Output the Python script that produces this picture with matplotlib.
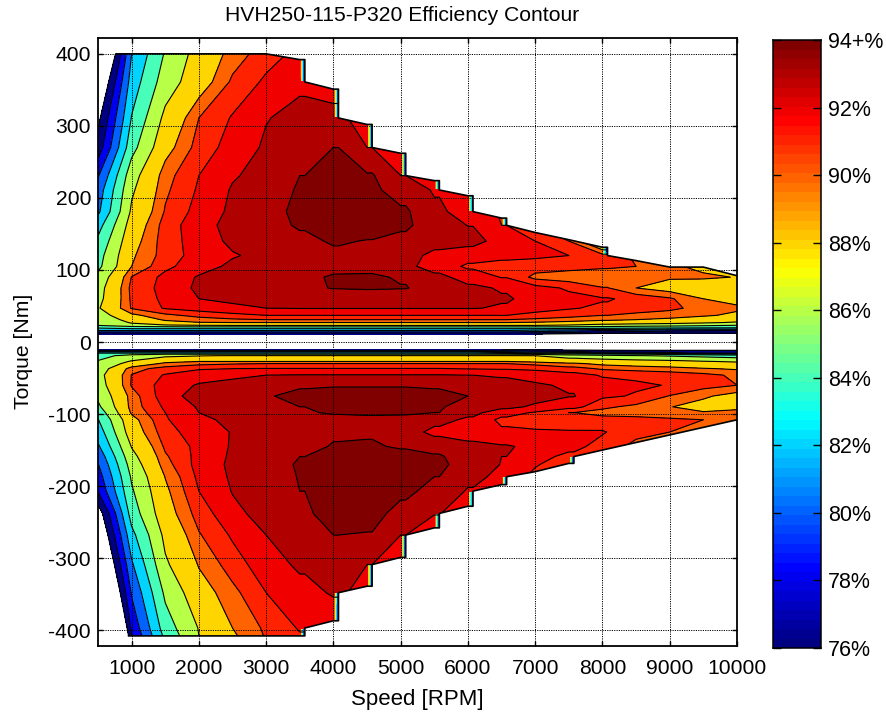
import numpy as np
import matplotlib
matplotlib.use('Agg')
import matplotlib.pyplot as plt
from matplotlib.colors import ListedColormap
from matplotlib.patches import Polygon

plt.rcParams['font.family'] = ['Liberation Sans', 'DejaVu Sans']
plt.rcParams['axes.unicode_minus'] = False

speeds = [500, 1000, 1500, 2000, 2500, 3000, 3500, 4000, 4500, 5000,
	5500, 6000, 6500, 7000, 7500, 8000, 8500, 9000, 9500, 10000]

# efficiency [%], motoring side, one row per torque
torque_top = [11, 12.3, 14, 16, 18.5, 21, 23, 27, 31, 37, 47, 60, 75, 90, 105,
	120, 140, 162, 181, 211, 231, 270, 311, 361, 400]
eff_top = [
	[76.2, 76.2, 76.2, 76.2, 76.2, 76.2, 76.2, 76.2, 76.2, 76.2, 76.2, 76.2, 76.2, 76, 75.5, 75, 74.5, 74, 74, 74],
	[78, 78, 78, 78, 78, 78, 78, 78, 78, 78, 78, 78, 78, 77.5, 77, 76.5, 76.2, 76, 76, 76],
	[80, 80, 80, 80, 80, 80, 80, 80, 80, 80, 80, 80, 80, 79.5, 79, 78, 77.5, 77.2, 77, 77],
	[82, 82, 82, 82, 82, 82, 82, 82, 82, 82, 82, 82, 82, 81.5, 81, 80, 79.3, 78.8, 78.3, 78],
	[83.5, 84, 84, 84, 84, 84, 84, 84, 84, 84, 84, 84, 84, 84, 83.8, 83.6, 83.4, 83.2, 83, 83],
	[85, 85.5, 85.8, 86, 86, 86, 86, 86, 86, 86, 86, 86, 86, 86, 85.9, 85.7, 85.5, 85.3, 85.2, 85],
	[86, 87.3, 87.7, 87.9, 88, 88, 88, 88, 88, 88, 88, 88, 88, 88, 87.7, 87, 86.7, 86.5, 86.2, 85.9],
	[86.2, 88.2, 89.5, 89.95, 90, 90, 90, 90, 90, 90, 90, 90, 90, 89.9, 89.7, 89.4, 89.1, 88.8, 88.3, 87.8],
	[86.5, 88.8, 90.2, 90.6, 90.85, 91, 91, 91, 91, 91, 91, 91, 91, 90.8, 90.5, 90.2, 90, 89.7, 89.2, 88.7],
	[87, 89.7, 90.75, 91.3, 91.7, 92, 92, 92, 92, 92, 92, 92, 92, 91.7, 91.4, 91, 90.8, 90.6, 90.2, 89.7],
	[87.8, 91.1, 92.1, 92.5, 92.8, 93, 93.05, 93.05, 93.05, 93.05, 93.05, 93.05, 92.9, 92.4, 92.1, 91.8, 91.4, 91.2, 90.7, 90.25],
	[87.4, 91.2, 92.25, 93, 93.2, 93.3, 93.35, 93.4, 93.4, 93.4, 93.3, 93.2, 93.1, 92.7, 92.3, 92.1, 91.7, 91.15, 90, 89.5],
	[87.2, 91.3, 92.35, 93.2, 93.4, 93.55, 93.8, 94.05, 94.1, 94.05, 93.6, 93.2, 92.9, 92.4, 91.85, 91.05, 90, 89.4, 89, 88.7],
	[86.6, 91.05, 92.3, 93.1, 93.4, 93.6, 93.8, 94.1, 94.15, 93.9, 93.25, 92.6, 91.95, 90.7, 90.4, 90.25, 90.2, 90.15, 90.2, 89.95],
	[85.5, 90, 91.75, 92.6, 93.2, 93.45, 93.6, 93.75, 93.7, 93.25, 92.6, 91.8, 91.6, 91.5, 91.4, 91.2, 91, 90.2, 89.7, 89.5],
	[85.2, 89.8, 91.45, 92.45, 92.92, 93.25, 93.5, 93.8, 93.75, 93.3, 92.8, 92.5, 92.3, 92.2, 92, 91.3, 90.9, 90, 89.5, 89],
	[84.4, 89.4, 91.5, 92.5, 93.2, 93.55, 93.8, 94.1, 93.95, 93.7, 93.3, 93.3, 92.65, 92, 91, 88, 88, 88, 88, 88],
	[83.2, 88.9, 91.45, 92.65, 93.3, 93.7, 94.1, 94.6, 94.5, 94.2, 93.4, 92.98, 92, 91, 88, 88, 88, 88, 88, 88],
	[81.6, 88.3, 91.1, 92.4, 93.2, 93.7, 94.2, 94.7, 94.5, 94.15, 93.2, 92.5, 91.9, 91, 88, 88, 88, 88, 88, 88],
	[80.9, 87.7, 90.8, 92.15, 93.1, 93.55, 94.1, 94.6, 94.2, 93.6, 92.9, 92.3, 91.5, 91, 88, 88, 88, 88, 88, 88],
	[79.8, 87.2, 90.6, 92, 92.9, 93.35, 94, 94.5, 94.1, 93, 92.2, 92, 91.5, 91, 88, 88, 88, 88, 88, 88],
	[76.8, 85.3, 89.46, 91.43, 92.43, 93.15, 93.65, 94, 93, 92.4, 92, 92, 91.5, 91, 88, 88, 88, 88, 88, 88],
	[75.4, 84.1, 88.5, 91, 92.1, 92.95, 93.3, 93.2, 92.6, 92.2, 92, 92, 91.5, 91, 88, 88, 88, 88, 88, 88],
	[72.8, 82.9, 87, 89.2, 91.2, 92.2, 92.8, 92.7, 92, 92, 92, 92, 91.5, 91, 88, 88, 88, 88, 88, 88],
	[69.5, 82, 86.2, 88.8, 90.45, 91.55, 92.3, 92.4, 92, 92, 92, 92, 91.5, 91, 88, 88, 88, 88, 88, 88],
]

# same for the generating side, torque given as magnitude
torque_bot = [10.5, 11.5, 12.5, 14, 15.5, 17, 19, 27, 30, 37, 46, 60, 75, 90, 98, 108,
	125, 145, 159, 170, 187, 207, 238, 268, 309, 348, 397, 408]
eff_bot = [
	[76.2, 76.2, 76.2, 76.2, 76.2, 76.2, 76.2, 76.2, 76.2, 76.2, 76.2, 76.2, 76, 75.6, 75, 74.5, 74, 74, 74, 74],
	[77.5, 77.5, 77.5, 77.5, 77.5, 77.5, 77.5, 77.5, 77.5, 77.5, 77.5, 77.5, 77.3, 76.9, 76.5, 76.2, 76, 76, 76, 76],
	[79, 79, 79, 79, 79, 79, 79, 79, 79, 79, 79, 79, 78.5, 78, 77.5, 77, 76.8, 76.7, 76.7, 76.7],
	[82, 82, 82, 82, 82, 82, 82, 82, 82, 82, 82, 82, 81, 80, 79, 78, 77.7, 77.5, 77.3, 77.3],
	[84, 84, 84, 84, 84, 84, 84, 84, 84, 84, 84, 84, 83.5, 83, 82, 81, 80, 79, 78, 77.9],
	[85, 85.7, 86, 86, 86, 86, 86, 86, 86, 86, 86, 86, 86, 85.8, 85, 84.7, 84.4, 83.5, 83, 82.5],
	[85.5, 86.5, 87.6, 87.9, 88.1, 88.1, 88.1, 88.1, 88.1, 88.1, 88.1, 88.1, 88.1, 88, 87, 86.5, 86.1, 85.8, 85.4, 85],
	[86.1, 88.2, 89.6, 90, 90, 90, 90, 90, 90, 90, 90, 90, 90, 89.7, 89.3, 89, 88.7, 88.5, 88.1, 87.8],
	[86.3, 88.8, 90.3, 90.7, 90.9, 91, 91, 91, 91, 91, 91, 91, 91, 90.7, 90.2, 89.7, 89.4, 89.2, 88.8, 88.5],
	[86.8, 90.6, 91.4, 91.9, 92, 92.05, 92.05, 92.05, 92.05, 92.05, 92.05, 91.95, 91.9, 91.8, 91.4, 90.85, 90.6, 90.4, 90.1, 89.85],
	[87.3, 91.05, 92.1, 92.55, 92.8, 93, 93.05, 93.05, 93.05, 93.05, 93.05, 93, 92.9, 92.6, 92.4, 91.9, 91.8, 91.6, 91.3, 90.8],
	[87, 91.1, 92.45, 93.1, 93.3, 93.5, 93.85, 93.9, 93.9, 93.9, 93.85, 93.8, 93.3, 93.15, 92.85, 92.4, 92.15, 91.95, 91.4, 91],
	[86.4, 90.5, 92.6, 93.4, 93.7, 93.9, 94.3, 94.5, 94.5, 94.5, 94.3, 94, 93.7, 93.45, 93.05, 92.2, 91.9, 90.95, 90.2, 89.5],
	[85.6, 90.45, 92.2, 93.1, 93.6, 93.8, 94, 94.3, 94.35, 94.35, 94.1, 93.6, 93.3, 92.8, 92.4, 91.2, 90.75, 90.05, 89.5, 89.7],
	[84.8, 90.2, 92, 93, 93.45, 93.7, 93.95, 94.05, 94.1, 94.1, 94, 93.3, 92.4, 91.9, 91, 90.7, 90.6, 90.3, 90.1, 90.3],
	[83.9, 89.5, 91.9, 92.75, 93.25, 93.5, 93.65, 93.85, 93.85, 93.8, 93.35, 92.8, 91.75, 91.5, 91.1, 91.35, 91.3, 91.2, 91, 90.7],
	[82.9, 89.1, 91.6, 92.55, 93.05, 93.5, 93.75, 93.9, 93.9, 93.5, 92.7, 92.4, 92.2, 92.15, 92.15, 92.1, 91.3, 91, 90, 89],
	[81.7, 88.1, 91.2, 92.3, 93.1, 93.4, 93.8, 94.05, 94.1, 93.9, 93.7, 93.35, 93.1, 92.75, 92.3, 91.6, 90.7, 89, 88, 88],
	[80.6, 87.4, 90.85, 92.35, 93.15, 93.5, 94, 94.4, 94.5, 94.3, 94.1, 93.55, 93, 92.35, 91.75, 90.55, 89, 88, 88, 88],
	[79.9, 86.9, 90.6, 92.4, 93.2, 93.6, 94.1, 94.6, 94.8, 94.6, 94.15, 93.7, 92.95, 92.1, 91.4, 90, 88, 88, 88, 88],
	[79, 86.25, 90.05, 92.25, 93.15, 93.55, 94.05, 94.6, 94.75, 94.45, 94, 93.3, 92.7, 91.7, 90.5, 88.7, 88, 88, 88, 88],
	[78.1, 85.75, 89.7, 92, 93.05, 93.5, 94, 94.55, 94.6, 94.2, 93.7, 92.9, 92.35, 91.3, 90, 88, 88, 88, 88, 88],
	[74.6, 84.9, 89.3, 91.45, 92.75, 93.35, 93.85, 94.35, 94.3, 93.7, 93.05, 92.3, 92, 91, 90, 88, 88, 88, 88, 88],
	[72.9, 83.4, 88.5, 90.9, 92.15, 93, 93.5, 94, 93.95, 93, 92.3, 92, 92, 91, 90, 88, 88, 88, 88, 88],
	[70.6, 81.7, 87.7, 90.1, 91.5, 92.6, 93.15, 93.5, 93, 92.4, 92, 92, 92, 91, 90, 88, 88, 88, 88, 88],
	[67.8, 80.2, 86.4, 89.3, 90.7, 92, 92.7, 93.1, 92.8, 92, 92, 92, 92, 91, 90, 88, 88, 88, 88, 88],
	[60, 78.5, 85, 88.1, 90, 91.2, 92.1, 92.3, 92, 92, 92, 92, 92, 91, 90, 88, 88, 88, 88, 88],
	[56, 78, 84.5, 88, 89.8, 91.1, 91.9, 92, 92, 92, 92, 92, 92, 91, 90, 88, 88, 88, 88, 88],
]

# torque limit, with the steps it takes at some speeds
step_speed_top = [3500, 4000, 4500, 5000, 5500, 6000, 6500, 8000]
step_high_top = [392, 351, 302, 262, 224, 203, 172, 131.5]
step_low_top = [361, 311, 270, 231, 211, 181, 162, 120]
limit_speed_top = [770, 3000, 7000, 7500, 8500, 9000, 9500, 10000]
limit_torque_top = [400, 400, 152, 142, 113, 104, 104, 92]

step_speed_bot = [3500, 4000, 4500, 5000, 5500, 6000, 6500, 7500]
step_high_bot = [408, 387, 339, 299, 258, 228, 198, 168.5]
step_low_bot = [397, 348, 309, 268, 238, 207, 187, 159]
limit_speed_bot = [955, 3000, 7000, 8000, 9000, 10000]
limit_torque_bot = [408, 408, 180, 150, 129, 108]

levels = [76, 78, 80, 82, 84, 86, 88, 90, 91, 92, 93, 94, 110]
step_width = 75
below_range = 75.6


def matlab_jet(x):
	""" jet as MATLAB has it, a bit different from the matplotlib one near the ends """
	x = np.asarray(x, dtype=float)
	r = np.clip(np.minimum(4 * x - 1.5, -4 * x + 4.5), 0, 1)
	g = np.clip(np.minimum(4 * x - 0.5, -4 * x + 3.5), 0, 1)
	b = np.clip(np.minimum(4 * x + 0.5, -4 * x + 2.5), 0, 1)
	return np.stack([r, g, b], axis=-1)


jet = ListedColormap(matlab_jet(np.linspace(0, 1, 64)))


def add_steps(eff, torque, step_speed, step_low):
	""" Add a column just after every step. Fill grid goes below the contour range over the limit,
	line grid does not so the lines stay out of the thin colour strip """
	x = np.array(speeds, dtype=float)
	t = np.array(torque, dtype=float)
	z_line = np.array(eff, dtype=float)
	# a repeated row just over each low point keeps the strip full height
	for low in step_low:
		k = np.searchsorted(t, low)
		z_line = np.insert(z_line, k + 1, z_line[k], axis=0)
		t = np.insert(t, k + 1, low + 0.1)
	z_fill = z_line.copy()
	for s, low in zip(step_speed, step_low):
		k = np.searchsorted(x, s)
		col = z_line[:, k].copy()
		col_fill = z_fill[:, k].copy()
		col_fill[t > low] = below_range
		i = np.searchsorted(x, s + step_width)
		x = np.insert(x, i, s + step_width)
		z_line = np.insert(z_line, i, col, axis=1)
		z_fill = np.insert(z_fill, i, col_fill, axis=1)
	return x, t, z_fill, z_line


def limit_line(step_speed, step_high, step_low, limit_speed, limit_torque):
	pts = list(zip(limit_speed, limit_torque))
	for s, hi, low in zip(step_speed, step_high, step_low):
		pts += [(s, hi), (s + step_width, hi), (s + step_width, low)]
	# points at the same speed stay in the order hi, lo since sort is stable
	pts.sort(key=lambda p: p[0])
	return np.array(pts)


def draw_side(ax, x, t, z_fill, z_line, line, sign):
	fill_colors = [jet(min(int((lv - 76) / 18.0 * 64), 63)) for lv in levels[:-1]]
	t_plot = sign * t
	if sign < 0:
		t_plot = t_plot[::-1]
		z_fill = z_fill[::-1]
		z_line = z_line[::-1]
	cs = ax.contourf(x, t_plot, z_fill, levels=levels, colors=fill_colors, zorder=1)
	cl = ax.contour(x, t_plot, z_line, levels=levels[:-1], colors='k', linewidths=0.8, zorder=2)
	outline = np.vstack([[500, 5], [500, line[0, 1]], line, [10000, 5]])
	outline[:, 1] *= sign
	patch = Polygon(outline, closed=True, transform=ax.transData, fill=False, edgecolor='none')
	ax.add_patch(patch)
	cs.set_clip_path(patch)
	cl.set_clip_path(patch)
	ax.plot(line[:, 0], sign * line[:, 1], color='k', lw=1.2, zorder=3)


fig = plt.figure(figsize=(8.86, 7.14), dpi=100)
W, H = 886.0, 714.0
ax = fig.add_axes([98 / W, 1 - 646 / H, (737 - 98) / W, (646 - 38) / H])

x_top, t_top, fill_top, lines_top = add_steps(eff_top, torque_top, step_speed_top, step_low_top)
x_bot, t_bot, fill_bot, lines_bot = add_steps(eff_bot, torque_bot, step_speed_bot, step_low_bot)
line_top = limit_line(step_speed_top, step_high_top, step_low_top, limit_speed_top, limit_torque_top)
line_bot = limit_line(step_speed_bot, step_high_bot, step_low_bot, limit_speed_bot, limit_torque_bot)

draw_side(ax, x_top, t_top, fill_top, lines_top, line_top, 1)
draw_side(ax, x_bot, t_bot, fill_bot, lines_bot, line_bot, -1)

ax.set_xlim(500, 10000)
ax.set_ylim(-422, 422)
ax.set_xticks(np.arange(1000, 10001, 1000))
ax.set_yticks(np.arange(-400, 401, 100))
ax.set_axisbelow(False)
ax.grid(True, color='k', ls=(0, (1.2, 1.2)), lw=0.7)
ax.tick_params(direction='in', top=True, right=True, length=3.5, width=1, labelsize=15.2)
ax.tick_params(axis='x', pad=9)
ax.tick_params(axis='y', pad=5)
for sp in ax.spines.values():
	sp.set_linewidth(1.3)
ax.set_xlabel('Speed [RPM]', fontsize=16, labelpad=8)
ax.set_ylabel('Torque [Nm]', fontsize=15.2, labelpad=11, y=0.484)
ax.set_title('HVH250-115-P320 Efficiency Contour', fontsize=15.2, pad=12, x=0.476)

# colour bar, 64 steps like the map it was made with
cax = fig.add_axes([773 / W, 1 - 648 / H, (821 - 773) / W, (648 - 40) / H])
bar_values = np.linspace(76, 94, 65)
cax.pcolormesh([0, 1], bar_values, ((bar_values[:-1] + bar_values[1:]) / 2).reshape(-1, 1),
	cmap=jet, vmin=76, vmax=94)
cax.set_xlim(0, 1)
cax.set_ylim(76, 94)
cax.set_xticks([])
bar_ticks = [76, 78, 80, 82, 84, 86, 88, 90, 92, 94]
cax.set_yticks(bar_ticks)
cax.set_yticklabels(['%d%%' % v if v < 94 else '94+%' for v in bar_ticks])
cax.tick_params(axis='y', direction='in', left=True, right=True, labelleft=False, labelright=True,
	length=6, width=1, labelsize=15.5, pad=5)
for sp in cax.spines.values():
	sp.set_linewidth(1.1)

fig.savefig('out.png', dpi=100)
